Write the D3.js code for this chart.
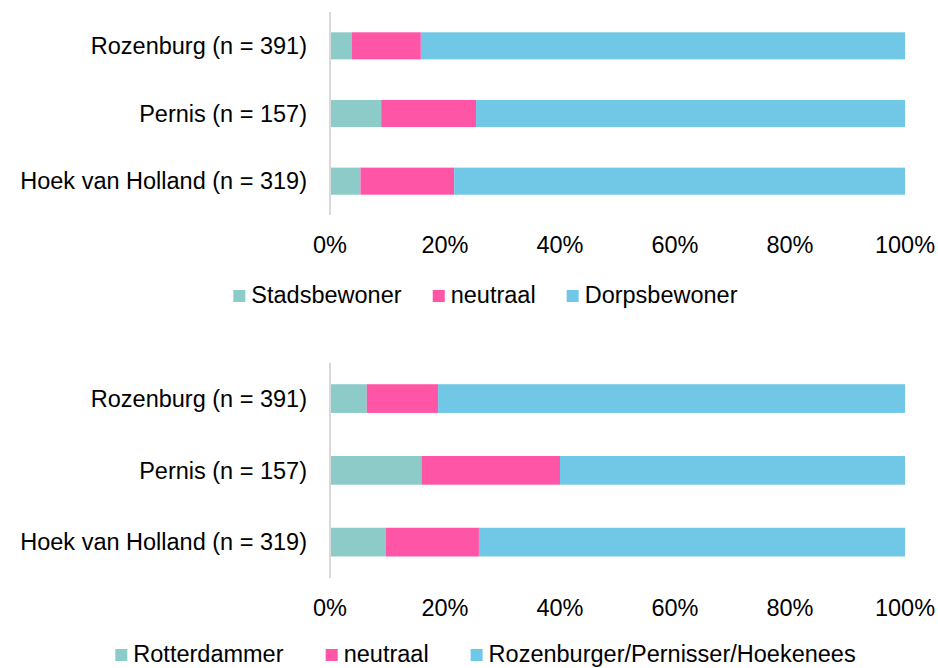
<!DOCTYPE html>
<html>
<head>
<meta charset="utf-8">
<script src="https://cdn.jsdelivr.net/npm/d3@7"></script>
<style>
  body { margin: 0; background: #fff; }
  text { font-family: "Liberation Sans", Arial, sans-serif; fill: #000; }
</style>
</head>
<body>
<div id="chart"></div>
<script>
// data (percentages)
var places = ["Rozenburg (n = 391)", "Pernis (n = 157)", "Hoek van Holland (n = 319)"];
var ticks = [0, 20, 40, 60, 80, 100];

var seriesTop = ["Stadsbewoner", "neutraal", "Dorpsbewoner"];
var stadsbewoner = [3.8, 8.9, 5.3];
var neutraalTop = [12.0, 16.5, 16.3];
var dorpsbewoner = [84.2, 74.6, 78.4];

var seriesBottom = ["Rotterdammer", "neutraal", "Rozenburger/Pernisser/Hoekenees"];
var rotterdammer = [6.4, 15.9, 9.7];
var neutraalBottom = [12.4, 24.1, 16.2];
var eigenDorp = [81.2, 60.0, 74.1];

var colors = ["#8ccbc8", "#ff55a6", "#71c7e6"];

var width = 938, height = 668;
var fontSize = 23.5;

var svg = d3.select("#chart").append("svg")
    .attr("width", width)
    .attr("height", height);

var x = d3.scaleLinear().domain([0, 100]).range([330, 905]);

function drawPanel(top, bottom, names, values, legendGap, legendDy) {
    var g = svg.append("g");

    var y = d3.scaleBand()
        .domain(places)
        .range([top, bottom])
        .paddingInner(0.6)
        .paddingOuter(0.3);

    // stack the three series per place
    var rows = places.map(function(p, i) {
        var r = {place: p};
        names.forEach(function(n, k) { r[k] = values[k][i]; });
        return r;
    });
    var stack = d3.stack().keys(d3.range(names.length));
    var layers = stack(rows);

    g.selectAll("g.layer")
        .data(layers)
        .enter().append("g")
        .attr("class", "layer")
        .style("fill", function(d, k) { return colors[k]; })
        .selectAll("rect")
        .data(function(d) { return d; })
        .enter().append("rect")
        .attr("x", function(d) { return x(d[0]); })
        .attr("width", function(d) { return x(d[1]) - x(d[0]); })
        .attr("y", function(d) { return y(d.data.place); })
        .attr("height", y.bandwidth());

    // vertical axis line
    g.append("line")
        .attr("x1", x(0)).attr("x2", x(0))
        .attr("y1", top).attr("y2", bottom)
        .style("stroke", "#d9d9d9")
        .style("stroke-width", 2);

    // category labels
    g.selectAll("text.cat")
        .data(places)
        .enter().append("text")
        .attr("class", "cat")
        .attr("x", 307)
        .attr("y", function(d) { return y(d) + y.bandwidth() / 2; })
        .attr("dy", "0.35em")
        .attr("text-anchor", "end")
        .style("font-size", fontSize + "px")
        .text(function(d) { return d; });

    // tick labels
    g.selectAll("text.tick")
        .data(ticks)
        .enter().append("text")
        .attr("class", "tick")
        .attr("x", function(d) { return x(d); })
        .attr("y", bottom + 38)
        .attr("text-anchor", "middle")
        .style("font-size", fontSize + "px")
        .text(function(d) { return d + "%"; });

    // legend, centred
    var legend = g.append("g");
    var items = legend.selectAll("g.item")
        .data(names)
        .enter().append("g")
        .attr("class", "item");

    items.append("rect")
        .attr("width", 12).attr("height", 12)
        .attr("y", -13)
        .style("fill", function(d, k) { return colors[k]; });

    items.append("text")
        .attr("x", 18)
        .style("font-size", fontSize + "px")
        .text(function(d) { return d; });

    var pos = 0;
    items.each(function() {
        var w = this.getBBox().width;
        d3.select(this).attr("transform", "translate(" + pos + ",0)");
        pos += w + legendGap;
    });
    var total = pos - legendGap;
    legend.attr("transform", "translate(" + (485.5 - total / 2) + "," + (bottom + legendDy) + ")");
}

drawPanel(12, 215, seriesTop, [stadsbewoner, neutraalTop, dorpsbewoner], 31, 88);
drawPanel(362.7, 578, seriesBottom, [rotterdammer, neutraalBottom, eigenDorp], 42, 84);
</script>
</body>
</html>
